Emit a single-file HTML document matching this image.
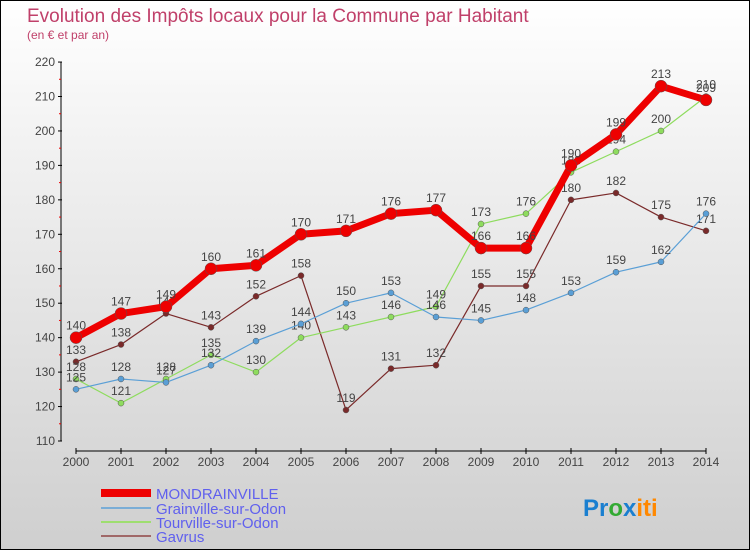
<!DOCTYPE html>
<html><head><meta charset="utf-8"><style>
body{margin:0;width:750px;height:550px;overflow:hidden;font-family:"Liberation Sans",sans-serif}
#c{position:relative;width:748px;height:548px;border:1px solid #000;background:linear-gradient(#fff,#f0f0f0 30%,#cfcfcf)}
svg{position:absolute;left:0;top:0}
</style></head><body>
<div id="c">
<svg id="s" width="748" height="548">
<text x="26" y="21" font-size="19" fill="#c0406a">Evolution des Impôts locaux pour la Commune par Habitant</text>
<text x="26" y="38" font-size="12" fill="#c0406a">(en € et par an)</text>
<g id="g"></g>
<g>
<rect x="100" y="488" width="50" height="8" fill="#e00"/>
<text x="155" y="498" font-size="15" fill="#6060ee">MONDRAINVILLE</text>
<line x1="100" y1="507" x2="150" y2="507" stroke="#7aadd6" stroke-width="2"/>
<text x="155" y="513" font-size="15" fill="#6060ee">Grainville-sur-Odon</text>
<line x1="100" y1="521" x2="150" y2="521" stroke="#9ede70" stroke-width="2"/>
<text x="155" y="527" font-size="15" fill="#6060ee">Tourville-sur-Odon</text>
<line x1="100" y1="535" x2="150" y2="535" stroke="#a06868" stroke-width="2"/>
<text x="155" y="541" font-size="15" fill="#6060ee">Gavrus</text>
</g>
<text x="582" y="515" font-size="24" font-weight="bold"><tspan fill="#1a7fd0">Pr</tspan><tspan fill="#3a3">o</tspan><tspan fill="#1a7fd0">x</tspan><tspan fill="#f80">iti</tspan></text>
</svg>
</div>
<script>
const years=[2000,2001,2002,2003,2004,2005,2006,2007,2008,2009,2010,2011,2012,2013,2014];
const mondrainville=[140,147,149,160,161,170,171,176,177,166,166,190,199,213,209];
const grainville=[125,128,127,132,139,144,150,153,146,145,148,153,159,162,176];
const tourville=[128,121,128,135,130,140,143,146,149,173,176,188,194,200,210];
const gavrus=[133,138,147,143,152,158,119,131,132,155,155,180,182,175,171];
const yTicks=[110,120,130,140,150,160,170,180,190,200,210,220];
const NS="http://www.w3.org/2000/svg";
const g=document.getElementById('g');
const X=i=>75+i*45, Y=v=>440-(v-110)*3.445;
function mk(t,a,p){const e=document.createElementNS(NS,t);for(const k in a)e.setAttribute(k,a[k]);(p||g).appendChild(e);return e;}
// axes
let ax=mk('line',{x1:60,y1:Y(220),x2:60,y2:440,stroke:'#000'});


let ax2=mk('line',{x1:75,y1:450,x2:705,y2:450,stroke:'#000'});


yTicks.forEach((v,i)=>{
  mk('line',{x1:57,y1:Y(v),x2:61,y2:Y(v),stroke:'#000'});
  if(i<yTicks.length-1)mk('line',{x1:58,y1:Y(v+5),x2:60,y2:Y(v+5),stroke:'#e00'});
  const t=mk('text',{x:54,y:Y(v)+4,'font-size':12,fill:'#444','text-anchor':'end'});t.textContent=v;
  
  
});
years.forEach((y,i)=>{
  mk('line',{x1:X(i),y1:447,x2:X(i),y2:453,stroke:'#000'});
  const t=mk('text',{x:X(i),y:465,'font-size':12,fill:'#444','text-anchor':'middle'});t.textContent=y;
  
  
});
function series(d,col,w,r,name){
  const p=mk('polyline',{points:d.map((v,i)=>X(i)+','+Y(v)).join(' '),fill:'none',stroke:col,'stroke-width':w,'stroke-linejoin':'round'});
  
  
  d.forEach((v,i)=>{
    const c=mk('circle',{cx:X(i),cy:Y(v),r:r,fill:col,stroke:'#555','stroke-width':0.5});
    
    
    const t=mk('text',{x:X(i),y:Y(v)-8,'font-size':12,fill:'#444','text-anchor':'middle'});t.textContent=v;
    
    
  });
}
series(gavrus,'#7a2a2a',1.2,3,'gavrus');
series(tourville,'#8edc5e',1.2,3,'tourville');
series(grainville,'#5a9fd6',1.2,3,'grainville');
series(mondrainville,'#ee0000',7,6,'mondrainville');
</script>
</body></html>
